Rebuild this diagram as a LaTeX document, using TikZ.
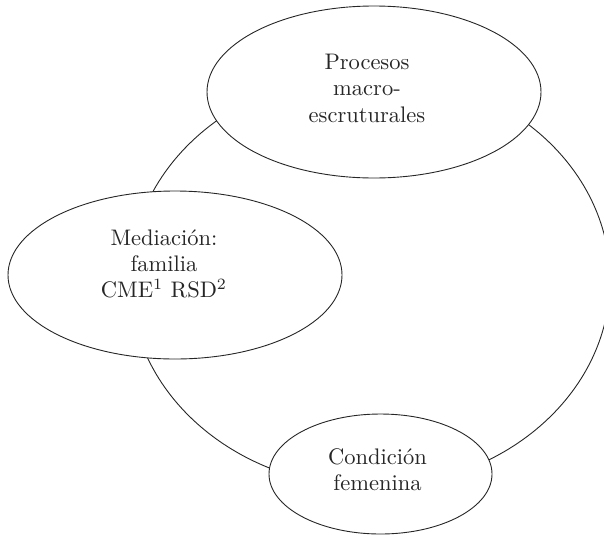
\documentclass[tikz,border=0pt]{standalone}
\usetikzlibrary{shapes.geometric}
\begin{document}
\begin{tikzpicture}[x=1pt,y=-1pt,
  ringstyle/.style={ellipse, draw=black!85, line width=0.9pt, inner sep=0pt},
  bubble/.style={ellipse, draw=black!85, line width=0.9pt, fill=white, inner sep=0pt},
  txt/.style={align=center, text=black!85, scale=2.25, font=\fontsize{10}{11.7}\selectfont}]
\useasboundingbox (0,0) rectangle (604,536);
\clip (0,0) rectangle (604,536);
\node[ringstyle, minimum width=480pt, minimum height=414pt] (ring) at (370,280) {};
\node[bubble, minimum width=334pt, minimum height=172pt] (top) at (374,92) {};
\node[bubble, minimum width=334pt, minimum height=168pt] (left) at (175,275) {};
\node[bubble, minimum width=223pt, minimum height=120pt] (bottom) at (380.5,474) {};
\node[txt] (toptext) at (367,88.3) {Procesos\\macro-\\escruturales};
\node[txt] (lefttext) at (164,264) {Mediación:\\familia\\CME\textsuperscript{1} RSD\textsuperscript{2}};
\node[txt] (bottomtext) at (377.5,469.7) {Condición\\femenina};
\end{tikzpicture}
\end{document}
